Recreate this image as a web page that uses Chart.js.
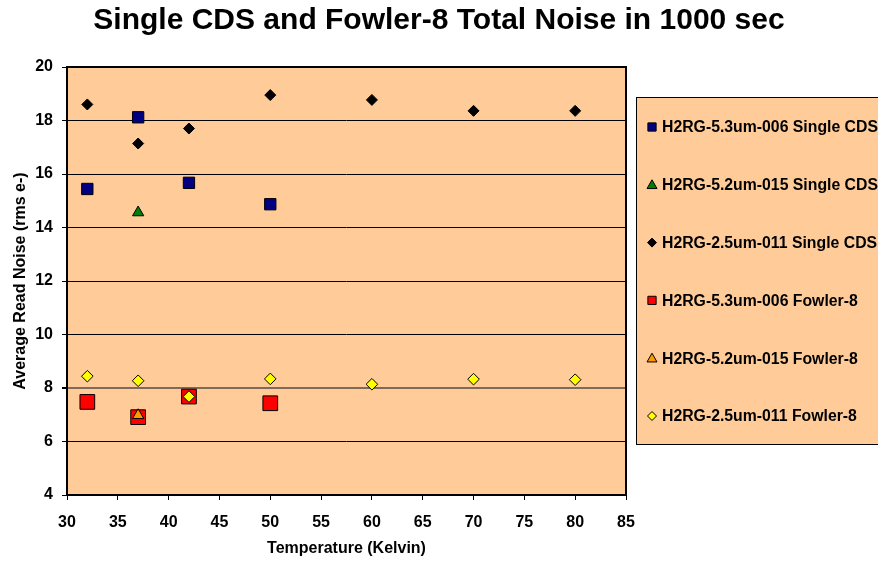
<!DOCTYPE html>
<html>
<head>
<meta charset="utf-8">
<title>Single CDS and Fowler-8 Total Noise in 1000 sec</title>
<script src="https://cdn.jsdelivr.net/npm/chart.js@4.4.1/dist/chart.umd.min.js"></script>
<style>
  html, body { margin: 0; padding: 0; background: #fff; }
  #wrap { width: 878px; height: 566px; }
</style>
</head>
<body>
<div id="wrap"><canvas id="noiseChart"></canvas></div>
<script>
// temperatures (K) measured for each detector
const temps53 = [32, 37, 42, 50];
const temps52 = [37];
const temps25 = [32, 37, 42, 50, 60, 70, 80];

// read noise, rms e-
const cds53 = [15.44, 18.12, 15.67, 14.87];
const cds52 = [14.56];
const cds25 = [18.6, 17.14, 17.7, 18.95, 18.77, 18.36, 18.36];
const fowler53 = [7.48, 6.91, 7.68, 7.43];
const fowler52 = [6.98];
const fowler25 = [8.44, 8.27, 7.68, 8.34, 8.14, 8.33, 8.31];

const seriesLabels = [
  "H2RG-5.3um-006 Single CDS",
  "H2RG-5.2um-015 Single CDS",
  "H2RG-2.5um-011 Single CDS",
  "H2RG-5.3um-006 Fowler-8",
  "H2RG-5.2um-015 Fowler-8",
  "H2RG-2.5um-011 Fowler-8"
];

const yTicks = [4, 6, 8, 10, 12, 14, 16, 18, 20];
const xTicks = [30, 35, 40, 45, 50, 55, 60, 65, 70, 75, 80, 85];

const PEACH = "#FFCC99";
const FONT = "'Liberation Sans', Arial, sans-serif";

const pairs = (xs, ys) => xs.map((x, i) => ({ x, y: ys[i] }));

const styles = [
  { fill: "#000080", shape: "rect", radius: 8, legendRadius: 5.5 },
  { fill: "#008000", shape: "triangle", radius: 6.5, legendRadius: 5 },
  { fill: "#000000", shape: "rectRot", radius: 5.5, legendRadius: 4.5 },
  { fill: "#FF0000", shape: "rect", radius: 10.4, legendRadius: 5.5 },
  { fill: "#FF9900", shape: "triangle", radius: 6.5, legendRadius: 5 },
  { fill: "#FFFF00", shape: "rectRot", radius: 5.8, legendRadius: 4.5 }
];

const seriesData = [
  pairs(temps53, cds53),
  pairs(temps52, cds52),
  pairs(temps25, cds25),
  pairs(temps53, fowler53),
  pairs(temps52, fowler52),
  pairs(temps25, fowler25)
];

const datasets = seriesData.map((data, i) => ({
  label: seriesLabels[i],
  data,
  showLine: false,
  pointStyle: styles[i].shape,
  pointRadius: styles[i].radius,
  pointHoverRadius: styles[i].radius,
  pointBackgroundColor: styles[i].fill,
  pointBorderColor: "#000",
  pointBorderWidth: 1,
  // later series sit on top of earlier ones
  order: seriesData.length - i
}));

// peach plot area with a heavy frame
const plotFrame = {
  id: "plotFrame",
  beforeDraw(chart) {
    const { ctx, chartArea: a } = chart;
    ctx.save();
    ctx.fillStyle = PEACH;
    ctx.fillRect(a.left, a.top, a.right - a.left, a.bottom - a.top);
    ctx.restore();
  },
  afterDraw(chart) {
    const { ctx, chartArea: a } = chart;
    ctx.save();
    ctx.strokeStyle = "#000";
    ctx.lineWidth = 2;
    ctx.strokeRect(a.left, a.top, a.right - a.left, a.bottom - a.top);
    ctx.restore();
  }
};

function drawMarker(ctx, shape, x, y, r) {
  ctx.beginPath();
  if (shape === "rect") {
    ctx.rect(x - r * 0.75, y - r * 0.75, r * 1.5, r * 1.5);
  } else if (shape === "rectRot") {
    ctx.moveTo(x, y - r);
    ctx.lineTo(x + r, y);
    ctx.lineTo(x, y + r);
    ctx.lineTo(x - r, y);
    ctx.closePath();
  } else {
    ctx.moveTo(x, y - r);
    ctx.lineTo(x + r, y + r * 0.75);
    ctx.lineTo(x - r, y + r * 0.75);
    ctx.closePath();
  }
  ctx.fill();
  ctx.stroke();
}

// boxed legend to the right of the plot
const sideLegend = {
  id: "sideLegend",
  afterDraw(chart) {
    const { ctx, chartArea: a } = chart;
    const left = a.right + 10;
    const top = a.top + 30;
    const bottom = a.bottom - 51;
    const step = 57.8;

    ctx.save();
    ctx.fillStyle = PEACH;
    ctx.fillRect(left, top, 300, bottom - top);
    ctx.strokeStyle = "#000";
    ctx.lineWidth = 1;
    ctx.strokeRect(left + 0.5, top + 0.5, 300, bottom - top);

    ctx.font = "bold 15.8px " + FONT;
    ctx.textBaseline = "middle";
    ctx.textAlign = "left";

    chart.data.datasets.forEach((ds, i) => {
      const y = top + 30 + i * step;
      ctx.fillStyle = styles[i].fill;
      ctx.strokeStyle = "#000";
      ctx.lineWidth = 1;
      drawMarker(ctx, styles[i].shape, left + 16, y, styles[i].legendRadius);
      ctx.fillStyle = "#000";
      ctx.fillText(ds.label, left + 26, y + 1);
    });
    ctx.restore();
  }
};

new Chart(document.getElementById("noiseChart"), {
  type: "scatter",
  data: { datasets },
  options: {
    responsive: true,
    maintainAspectRatio: false,
    animation: false,
    layout: { padding: 0 },
    plugins: {
      legend: { display: false },
      tooltip: { enabled: false },
      title: {
        display: true,
        text: "Single CDS and Fowler-8 Total Noise in 1000 sec",
        color: "#000",
        font: { family: FONT, size: 30, weight: "bold" },
        padding: { top: 3, bottom: 28 }
      }
    },
    scales: {
      x: {
        type: "linear",
        min: 30,
        max: 85,
        afterBuildTicks: scale => { scale.ticks = xTicks.map(value => ({ value })); },
        afterFit: scale => { scale.height = 71; },
        border: { display: false },
        grid: { drawOnChartArea: false, drawTicks: true, tickLength: 5, tickColor: "#000" },
        ticks: { color: "#000", padding: 13, font: { family: FONT, size: 16, weight: "bold" } },
        title: {
          display: true,
          text: "Temperature (Kelvin)",
          color: "#000",
          font: { family: FONT, size: 16, weight: "bold" },
          padding: { top: 0, bottom: 8 }
        }
      },
      y: {
        type: "linear",
        min: 4,
        max: 20,
        afterBuildTicks: scale => { scale.ticks = yTicks.map(value => ({ value })); },
        afterFit: scale => { scale.width = 67; },
        border: { display: false },
        grid: {
          color: ctx => (ctx.tick && ctx.tick.value === 8 ? "#7d6a58" : "#000"),
          lineWidth: ctx => (ctx.tick && ctx.tick.value === 8 ? 2 : 1),
          tickColor: "#000",
          tickLength: 5
        },
        ticks: { color: "#000", padding: 9, font: { family: FONT, size: 16, weight: "bold" } },
        title: {
          display: true,
          text: "Average Read Noise (rms e-)",
          color: "#000",
          font: { family: FONT, size: 16, weight: "bold" },
          padding: 11
        }
      },
      // empty right-hand axis that reserves room for the legend box
      gutter: {
        type: "linear",
        position: "right",
        display: true,
        afterFit: scale => { scale.width = 252; },
        border: { display: false },
        grid: { display: false },
        ticks: { display: false }
      }
    }
  },
  plugins: [plotFrame, sideLegend]
});
</script>
</body>
</html>
